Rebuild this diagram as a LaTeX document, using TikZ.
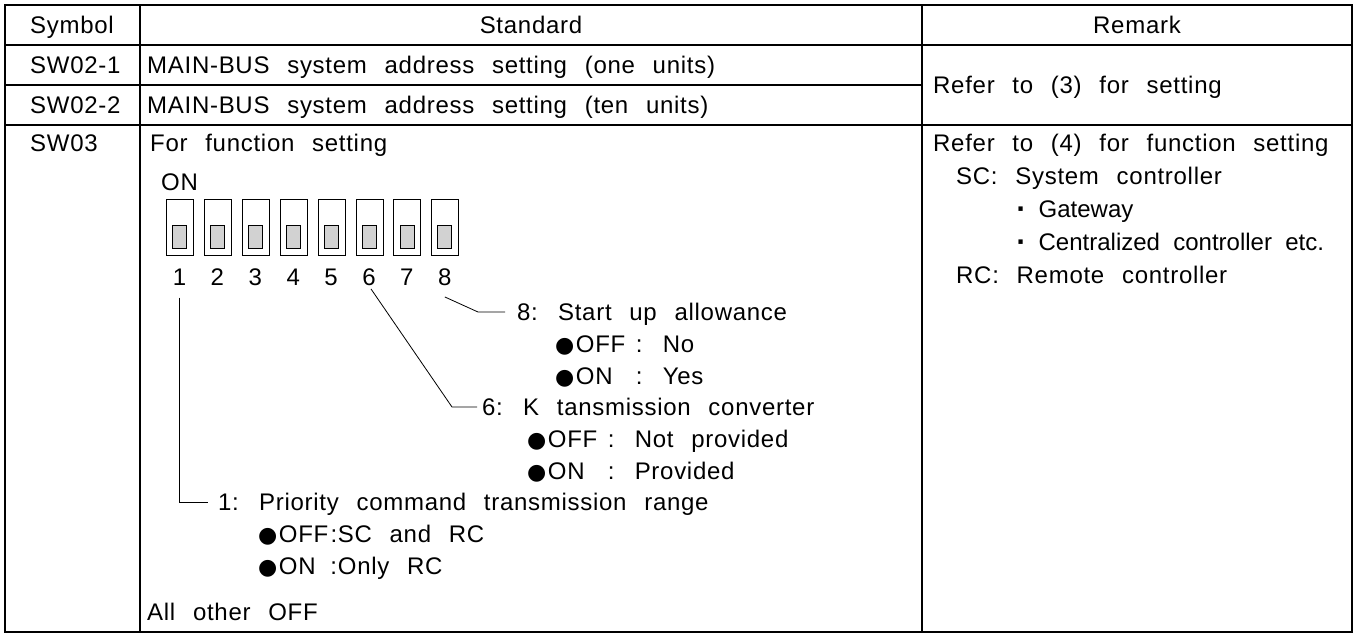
\documentclass[tikz,border=0pt]{standalone}
\usepackage{fontspec}
\setmainfont{Liberation Sans}[WordSpace=2.4,LetterSpace=3]
\newfontfamily\tightfont{Liberation Sans}[WordSpace=2]
\newfontfamily\symfont{DejaVu Sans}
\newcommand\blt[3]{{\symfont\fontsize{22}{24}\selectfont ●}\kern1.5pt\makebox[#1][l]{#2}:#3}
\newcommand\mdot{{\symfont\bfseries ·}}
\begin{document}
\begin{tikzpicture}[x=1pt,y=-1pt,
  every node/.style={inner sep=0pt, font=\fontsize{24}{28}\selectfont},
  txt/.style={anchor=base west},
  ctr/.style={anchor=base},
  grid/.style={line width=1.4pt},
  lead/.style={line width=0.8pt},
  swbox/.style={draw, line width=1pt, minimum width=27pt, minimum height=56pt},
  knob/.style={draw, line width=0.8pt, fill=gray!35, minimum width=14pt, minimum height=23pt}]
\useasboundingbox (0,0) rectangle (1359,633);
% table frame
\draw[grid] (5,5) rectangle (1352,632);
\draw[grid] (140,5) -- (140,632);
\draw[grid] (922,5) -- (922,632);
\draw[grid] (5,45) -- (1352,45);
\draw[grid] (5,85) -- (922,85);
\draw[grid] (5,125) -- (1352,125);
% header
\node[ctr] (hsym) at (72,33.5) {Symbol};
\node[ctr] (hstd) at (531,33.5) {Standard};
\node[ctr] (hrem) at (1137,33.5) {Remark};
% rows
\node[txt] (s1) at (30,73.5) {SW02-1};
\node[txt] (d1) at (147,73.5) {MAIN-BUS system address setting (one units)};
\node[txt] (s2) at (30,113.5) {SW02-2};
\node[txt] (d2) at (147,113.5) {MAIN-BUS system address setting (ten units)};
\node[txt] (r1) at (933,93.5) {Refer to (3) for setting};
\node[txt] (s3) at (30,151.5) {SW03};
\node[txt] (d3) at (150,151.5) {For function setting};
\node[txt] (on) at (161,190.5) {ON};
% switches
\foreach \i in {1,...,8}{
  \pgfmathsetmacro\xx{166+(\i-1)*37.9}
  \node[swbox, anchor=north west] (sw\i) at (\xx,199) {};
  \node[knob] (k\i) at (\xx+13.5,236.5) {};
  \node[ctr] (n\i) at (\xx+13.5,285.5) {\i};
}
% descriptions
\node[txt] (t8) at (517,320.5) {8: Start up allowance};
\node[txt] (b8a) at (555,352) {\blt{2.5em}{OFF}{ No}};
\node[txt] (b8b) at (555,384) {\blt{2.5em}{ON}{ Yes}};
\node[txt] (t6) at (482,415.5) {6: K tansmission converter};
\node[txt] (b6a) at (527,447.5) {\blt{2.5em}{OFF}{ Not provided}};
\node[txt] (b6b) at (527,479) {\blt{2.5em}{ON}{ Provided}};
\node[txt] (t1) at (218,510.5) {1: Priority command transmission range};
\node[txt] (b1a) at (258,542.5) {\blt{2.15em}{OFF}{SC and RC}};
\node[txt] (b1b) at (258,574.5) {\blt{2.15em}{ON}{Only RC}};
\node[txt] (all) at (147,620) {All other OFF};
% leaders
\draw[lead] ([yshift=-12pt]n1.south) |- ([shift={(-10pt,8.5pt)}]t1.base west);
\draw[lead] ([shift={(2pt,-3pt)}]n6.south) -- ([shift={(-30pt,8.5pt)}]t6.base west) -- ([shift={(-5pt,8.5pt)}]t6.base west);
\draw[lead] ([yshift=-11pt]n8.south) -- ([shift={(-39pt,8.5pt)}]t8.base west) -- ([shift={(-12pt,8.5pt)}]t8.base west);
% remark column
\node[txt] (r2) at (933,151.5) {Refer to (4) for function setting};
\node[txt] (sc) at (956,184.5) {SC: System controller};
\node[txt] (gw) at (1016,217.5) {\tightfont\mdot\ Gateway};
\node[txt] (cc) at (1016,250.5) {\tightfont\mdot\ Centralized controller etc.};
\node[txt] (rc) at (956,283.5) {RC: Remote controller};
\end{tikzpicture}
\end{document}
